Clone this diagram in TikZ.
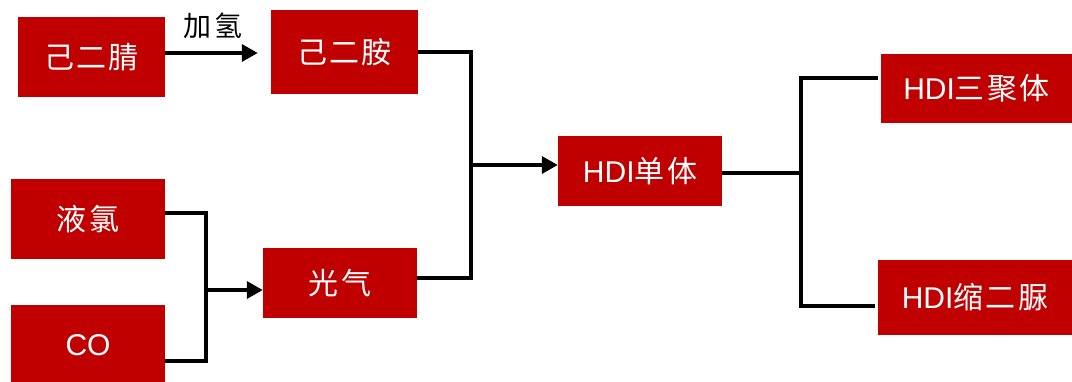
\documentclass[tikz,border=0pt]{standalone}
\usepackage{fontspec}
\setmainfont{Liberation Sans}
\newfontfamily\cjk[LetterSpace=8]{Noto Sans CJK SC}
\usetikzlibrary{arrows.meta}
\definecolor{boxred}{RGB}{192,0,0}
\tikzset{
  box/.style={fill=boxred, text=white, inner sep=0pt, font=\fontsize{30}{34}\selectfont},
  conn/.style={line width=3.5pt, line join=miter},
  arr/.style={conn, -{Triangle[length=16pt,width=17pt]}},
}
\begin{document}
\begin{tikzpicture}[x=1pt,y=-1pt]
\useasboundingbox (0,0) rectangle (1072,382);
\begin{scope}
\clip (0,0) rectangle (1072,382);
\node[box, minimum width=147pt, minimum height=80pt] (A) at (91.5,57) {\cjk 己二腈};
\node[box, minimum width=147pt, minimum height=84pt] (B) at (344.5,52) {\cjk 己二胺};
\node[box, minimum width=154pt, minimum height=80pt] (C) at (88,219) {\cjk 液氯};
\node[box, minimum width=154pt, minimum height=80pt] (D) at (88,345) {CO};
\node[box, minimum width=154pt, minimum height=70pt] (E) at (340,283) {\cjk 光气};
\node[box, minimum width=164pt, minimum height=70pt] (F) at (640,171) {HDI{\cjk 单体}};
\node[box, minimum width=191pt, minimum height=69pt] (G) at (976.5,88.5) {HDI{\cjk 三聚体}};
\node[box, minimum width=194pt, minimum height=75pt] (H) at (975,297.5) {HDI{\cjk 缩二脲}};
\end{scope}

\coordinate (a0) at ([yshift=4pt]A.east);
\draw[arr, shorten >=13pt] (a0) -- (a0 -| B.west)
  node[midway, above=9pt, xshift=-5pt, font=\fontsize{28}{30}\selectfont\cjk] (lbl) {加氢};

% Liquid chlorine + CO -> phosgene
\coordinate (c0) at ([yshift=6pt]C.east);
\coordinate (d0) at ([yshift=-16pt]D.east);
\coordinate (j2t) at (206,213);
\coordinate (j2b) at (206,361);
\coordinate (j2m) at (206,290);
\draw[conn] (c0) -- (j2t) -- (j2b) -- (d0);
\draw[arr] (j2m) -- (j2m -| E.west);

% hexamethylenediamine + phosgene -> HDI
\coordinate (e0) at ([yshift=5pt]E.east);
\coordinate (j1t) at (471,52);
\coordinate (j1b) at (471,278);
\coordinate (j1m) at (471,165);
\draw[conn] (B.east) -- (j1t) -- (j1b) -- (e0);
\draw[arr] (j1m) -- (j1m -| F.west);

% HDI -> products
\coordinate (f0) at ([yshift=-2pt]F.east);
\coordinate (j3m) at (801,173);
\coordinate (j3t) at (801,78);
\coordinate (j3b) at (801,306);
\draw[conn] (f0) -- (j3m);
\draw[conn] ([xshift=-3pt]j3t -| G.west) -- (j3t) -- (j3b) -- ([xshift=-3pt]j3b -| H.west);
\end{tikzpicture}
\end{document}
